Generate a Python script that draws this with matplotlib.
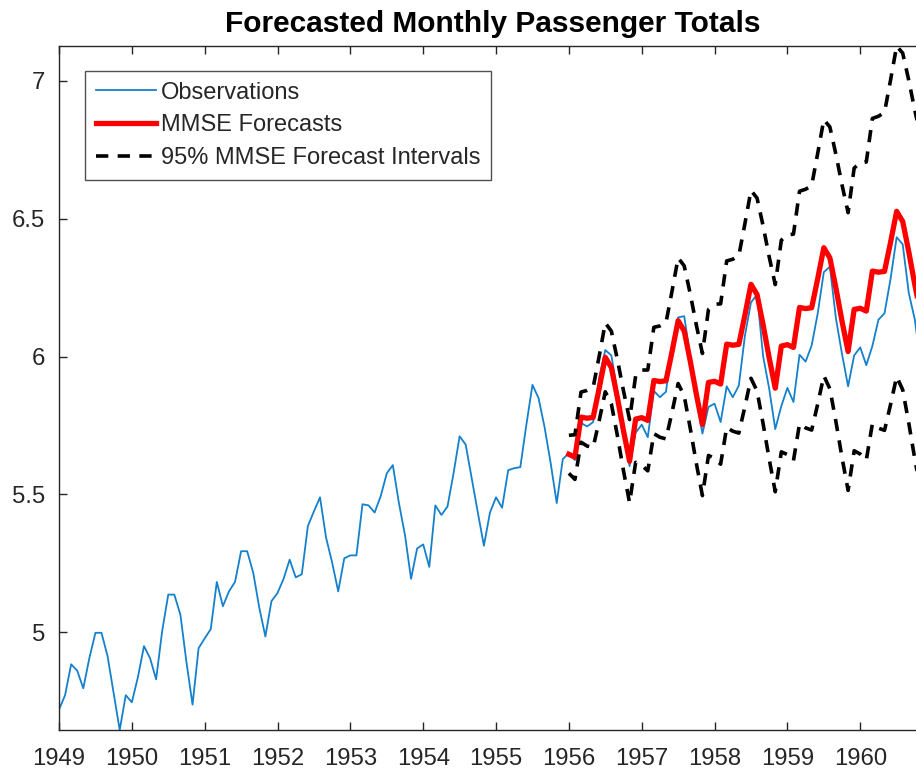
import numpy as np
import matplotlib
matplotlib.use("Agg")
import matplotlib.pyplot as plt

# Monthly airline passenger totals (thousands), 1949-1960; plotted on a log scale
passengers = [
    112, 118, 132, 129, 121, 135, 148, 148, 136, 119, 104, 118,
    115, 126, 141, 135, 125, 149, 170, 170, 158, 133, 114, 140,
    145, 150, 178, 163, 172, 178, 199, 199, 184, 162, 146, 166,
    171, 180, 193, 181, 183, 218, 230, 242, 209, 191, 172, 194,
    196, 196, 236, 235, 229, 243, 264, 272, 237, 211, 180, 201,
    204, 188, 235, 227, 234, 264, 302, 293, 259, 229, 203, 229,
    242, 233, 267, 269, 270, 315, 364, 347, 312, 274, 237, 278,
    284, 277, 317, 313, 318, 374, 413, 405, 355, 306, 271, 306,
    315, 301, 356, 348, 355, 422, 465, 467, 404, 347, 305, 336,
    340, 318, 362, 348, 363, 435, 491, 505, 404, 359, 310, 337,
    360, 342, 406, 396, 420, 472, 548, 559, 463, 407, 362, 405,
    417, 391, 419, 461, 472, 535, 622, 606, 508, 461, 390, 432,
]
obs_start_year = 1949

# MMSE forecasts (log scale), Jan 1956 - Dec 1960
forecast = [
    5.645, 5.635, 5.780, 5.776, 5.779, 5.885, 5.997, 5.960, 5.850, 5.730, 5.620, 5.773,
    5.778, 5.768, 5.913, 5.909, 5.912, 6.018, 6.130, 6.093, 5.983, 5.863, 5.753, 5.906,
    5.910, 5.900, 6.045, 6.041, 6.044, 6.150, 6.262, 6.225, 6.115, 5.995, 5.885, 6.038,
    6.043, 6.033, 6.178, 6.174, 6.177, 6.283, 6.395, 6.358, 6.248, 6.128, 6.018, 6.171,
    6.175, 6.165, 6.310, 6.306, 6.309, 6.415, 6.527, 6.490, 6.380, 6.260, 6.150, 6.303,
]
upper = [
    5.714, 5.716, 5.871, 5.877, 5.888, 6.002, 6.122, 6.092, 5.988, 5.875, 5.771, 5.930,
    5.951, 5.951, 6.106, 6.111, 6.123, 6.238, 6.358, 6.329, 6.227, 6.114, 6.011, 6.171,
    6.190, 6.191, 6.347, 6.353, 6.366, 6.482, 6.603, 6.575, 6.474, 6.362, 6.261, 6.422,
    6.442, 6.444, 6.600, 6.607, 6.621, 6.738, 6.860, 6.833, 6.733, 6.623, 6.522, 6.684,
    6.704, 6.706, 6.864, 6.872, 6.886, 7.004, 7.127, 7.101, 7.002, 6.893, 6.793, 6.956,
]
lower = [
    5.576, 5.554, 5.689, 5.675, 5.670, 5.768, 5.872, 5.828, 5.712, 5.585, 5.469, 5.616,
    5.605, 5.585, 5.720, 5.707, 5.701, 5.798, 5.902, 5.857, 5.739, 5.612, 5.495, 5.641,
    5.630, 5.609, 5.743, 5.729, 5.722, 5.818, 5.921, 5.875, 5.756, 5.628, 5.509, 5.654,
    5.644, 5.622, 5.756, 5.741, 5.733, 5.828, 5.930, 5.883, 5.763, 5.633, 5.514, 5.658,
    5.646, 5.624, 5.756, 5.740, 5.732, 5.826, 5.927, 5.879, 5.758, 5.627, 5.507, 5.650,
]
fc_start_year = 1956

year_ticks = list(range(1949, 1961))
y_ticks = [5, 5.5, 6, 6.5, 7]
y_tick_labels = ["5", "5.5", "6", "6.5", "7"]

title = "Forecasted Monthly Passenger Totals"
labels = ["Observations", "MMSE Forecasts", "95% MMSE Forecast Intervals"]

plt.rcParams['font.family'] = ['Liberation Sans', 'DejaVu Sans']

y_obs = np.log(np.array(passengers, dtype=float))
x_obs = obs_start_year + np.arange(len(y_obs)) / 12.0
x_fc = fc_start_year + np.arange(len(forecast)) / 12.0

fig = plt.figure(figsize=(9.16, 7.74), dpi=100)
W, H = 916, 774
left_px, right_px, top_px, bot_px = 59, 927, 46, 730
ax = fig.add_axes([left_px / W, (H - bot_px) / H, (right_px - left_px) / W, (bot_px - top_px) / H])

grey = '#262626'
ax.plot(x_obs, y_obs, color='#1580CC', lw=1.3, label=labels[0])
ax.plot(x_fc, forecast, color='#FF0000', lw=3.8, label=labels[1])
ax.plot(x_fc, upper, color='black', lw=2.6, linestyle=(0, (3.4, 2.6)), label=labels[2])
ax.plot(x_fc, lower, color='black', lw=2.6, linestyle=(0, (3.4, 2.6)))

ax.set_xlim(x_obs[0], x_obs[-1])
ax.set_ylim(min(y_obs.min(), min(lower)), max(upper))
ax.set_xticks(year_ticks)
ax.set_xticklabels([str(y) for y in year_ticks])
ax.set_yticks(y_ticks)
ax.set_yticklabels(y_tick_labels)
ax.tick_params(direction='in', length=6, width=1, colors=grey, labelsize=17.2,
               top=True, right=True)
ax.tick_params(axis='x', pad=13)
ax.tick_params(axis='y', pad=10)
for s in ax.spines.values():
    s.set_color(grey)
    s.set_linewidth(1.0)

ax.set_title(title, fontsize=21.5, fontweight='bold', color='black', pad=10)

leg = ax.legend(loc='upper left', bbox_to_anchor=(0.030, 0.9635), borderaxespad=0,
                fontsize=17, frameon=True, fancybox=False, edgecolor=grey,
                handlelength=2.55, handletextpad=0.22, labelspacing=0.46,
                borderpad=0.45)
leg.get_frame().set_linewidth(1.0)
for t in leg.get_texts():
    t.set_color(grey)

fig.savefig('out.png', dpi=100)
